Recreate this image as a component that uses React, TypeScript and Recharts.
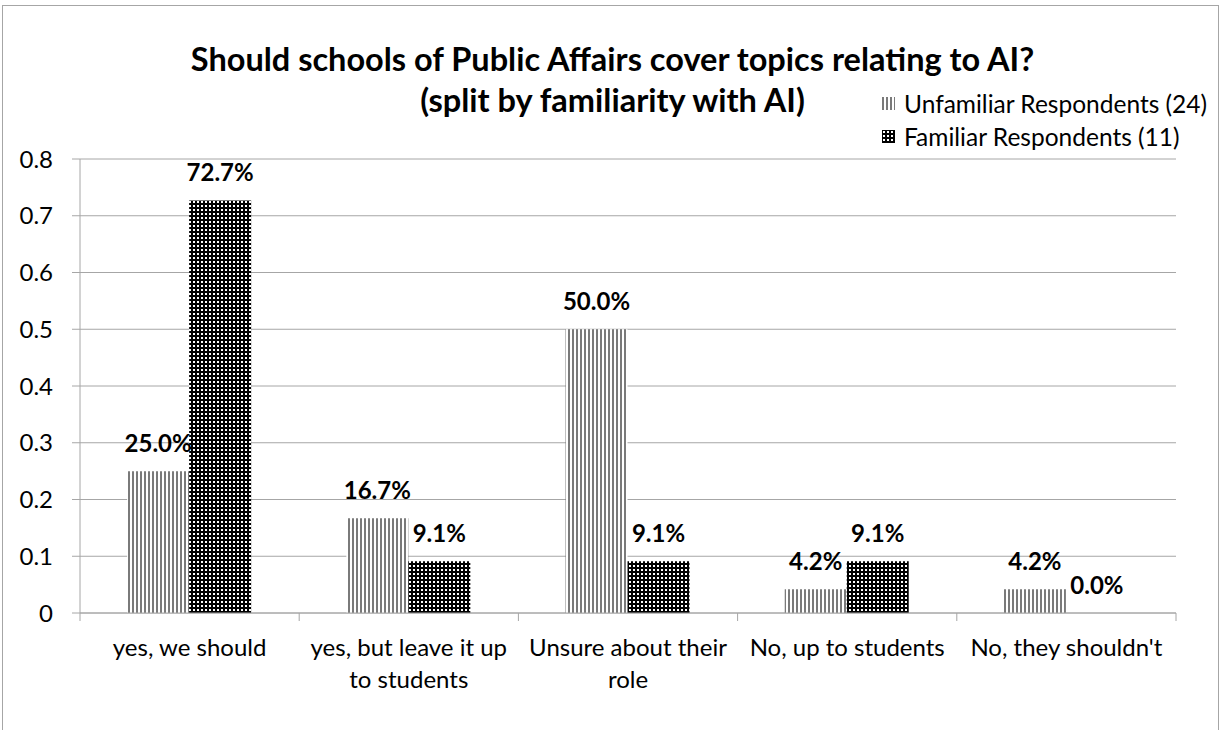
import { BarChart, Bar, XAxis, YAxis, CartesianGrid, LabelList } from "recharts";

const categories = [
  "yes, we should",
  "yes, but leave it up\nto students",
  "Unsure about their\nrole",
  "No, up to students",
  "No, they shouldn't",
];
const unfamiliar = [0.25, 0.167, 0.5, 0.042, 0.042];
const familiar = [0.727, 0.091, 0.091, 0.091, 0.0];
const seriesNames = ["Unfamiliar Respondents (24)", "Familiar Respondents (11)"];
const yTicks = [0, 0.1, 0.2, 0.3, 0.4, 0.5, 0.6, 0.7, 0.8];
const titleLines = [
  "Should schools of Public Affairs cover topics relating to AI?",
  "(split by familiarity with AI)",
];

const data = categories.map((name, i) => ({
  name,
  unfamiliar: unfamiliar[i],
  familiar: familiar[i],
}));

const W = 1225;
const H = 730;
const FONT = "Lato, 'Liberation Sans', sans-serif";
const GRAY = "#a6a6a6";
const MARGIN = { top: 159, right: 49, bottom: 0, left: 0 };
const Y_WIDTH = 80;
const X_HEIGHT = 117;
const BAND = (W - MARGIN.left - MARGIN.right - Y_WIDTH) / categories.length;

const pct = (v: any) => `${(Number(v) * 100).toFixed(1)}%`;

const Patterns = ({ prefix }: { prefix: string }) => (
  <defs>
    <pattern id={`${prefix}-stripe`} width="4" height="4" patternUnits="userSpaceOnUse">
      <rect width="4" height="4" fill="#fff" />
      <rect width="2" height="4" fill="#7a7a7a" />
    </pattern>
    <pattern id={`${prefix}-dots`} width="4" height="4" patternUnits="userSpaceOnUse">
      <rect width="4" height="4" fill="#000" />
      <rect x="1" y="1" width="2" height="2" fill="#fff" />
    </pattern>
  </defs>
);

const XTick = (props: any) => {
  const { x, y, payload, index } = props;
  const lines = String(payload.value).split("\n");
  const half = BAND / 2;
  return (
    <g>
      <line x1={x - half} x2={x - half} y1={y} y2={y + 8} stroke={GRAY} />
      {index === categories.length - 1 && (
        <line x1={x + half} x2={x + half} y1={y} y2={y + 8} stroke={GRAY} />
      )}
      <text x={x} y={y + 43} textAnchor="middle" fontSize={24} fontFamily={FONT} fill="#000">
        {lines.map((l, k) => (
          <tspan key={k} x={x} dy={k === 0 ? 0 : 32}>
            {l}
          </tspan>
        ))}
      </text>
    </g>
  );
};

const BarLabel = (props: any) => {
  const { x, y, width, value } = props;
  return (
    <text x={Number(x) + Number(width) / 2} y={Number(y) - 19} textAnchor="middle" fontSize={24} fontWeight={700} fontFamily={FONT} fill="#000">
      {pct(value)}
    </text>
  );
};

const LegendBox = () => (
  <div style={{ fontFamily: FONT, fontSize: 24.5, color: "#000", lineHeight: "33px" }}>
    {seriesNames.map((n, i) => (
      <div key={n} style={{ display: "flex", alignItems: "center", whiteSpace: "nowrap" }}>
        <svg width={13} height={13} style={{ marginRight: 9 }}>
          <Patterns prefix={`lg${i}`} />
          <rect width={13} height={13} fill={`url(#lg${i}-${i === 0 ? "stripe" : "dots"})`} />
        </svg>
        {n}
      </div>
    ))}
  </div>
);

export default function App() {
  return (
    <div style={{ position: "absolute", left: 0, top: 0, width: W, height: H, overflow: "hidden", background: "#fff" }}>
      <div style={{ position: "absolute", left: 2, top: 5, width: 1215, height: 760, border: `1px solid ${GRAY}` }} />
      <div
        style={{
          position: "absolute",
          left: 0,
          width: W,
          top: 38,
          textAlign: "center",
          fontFamily: FONT,
          fontWeight: 700,
          fontSize: 32.5,
          lineHeight: "41px",
          color: "#000",
        }}
      >
        {titleLines.map((t) => (
          <div key={t}>{t}</div>
        ))}
      </div>
      <div style={{ position: "absolute", left: 0, top: 0 }}>
        <BarChart width={W} height={H} data={data} margin={MARGIN} barCategoryGap="21.5%" barGap={0}>
          <Patterns prefix="bar" />
          <CartesianGrid vertical={false} stroke={GRAY} />
          <XAxis
            dataKey="name"
            height={X_HEIGHT}
            stroke={GRAY}
            tickLine={false}
            tickSize={0}
            tickMargin={0}
            interval={0}
            tick={<XTick />}
          />
          <YAxis
            width={Y_WIDTH}
            domain={[0, 0.8]}
            ticks={yTicks}
            stroke={GRAY}
            tickSize={8}
            tickMargin={19}
            tick={{ fill: "#000", fontSize: 24, fontFamily: FONT }}
          />
          <Bar dataKey="unfamiliar" name={seriesNames[0]} fill="url(#bar-stripe)" minPointSize={0.01} isAnimationActive={false}>
            <LabelList dataKey="unfamiliar" content={<BarLabel />} />
          </Bar>
          <Bar dataKey="familiar" name={seriesNames[1]} fill="url(#bar-dots)" minPointSize={0.01} isAnimationActive={false}>
            <LabelList dataKey="familiar" content={<BarLabel />} />
          </Bar>
        </BarChart>
      </div>
      <div style={{ position: "absolute", left: 882, top: 87 }}>
        <LegendBox />
      </div>
    </div>
  );
}
